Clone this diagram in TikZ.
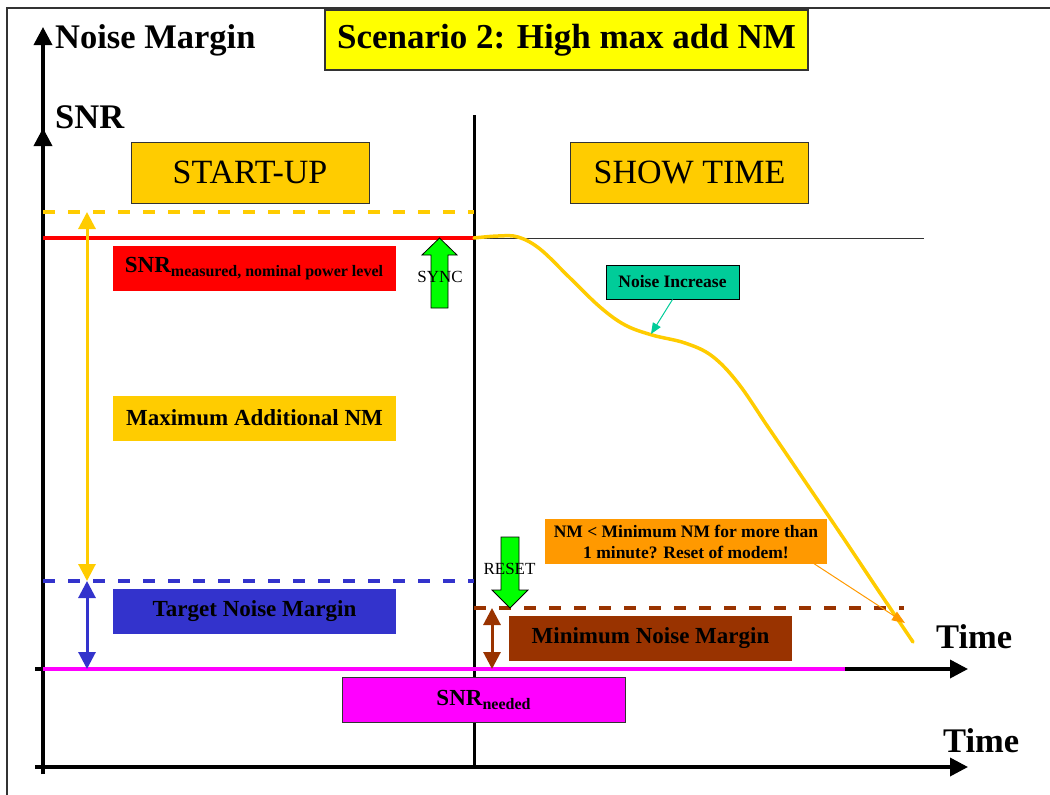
\documentclass[tikz,border=0pt]{standalone}
\usepackage{fontspec}
\setmainfont{Liberation Serif}
\usetikzlibrary{arrows.meta}
\definecolor{gold}{HTML}{FFCC00}
\definecolor{yel}{HTML}{FFFF00}
\definecolor{grn}{HTML}{00FF00}
\definecolor{teal2}{HTML}{00CC99}
\definecolor{blue2}{HTML}{3333CC}
\definecolor{brown2}{HTML}{993300}
\definecolor{mag}{HTML}{FF00FF}
\definecolor{orng}{HTML}{FF9900}
\definecolor{frame}{HTML}{333333}
\begin{document}
\begin{tikzpicture}[x=1pt,y=-1pt,
  axis/.style={line width=3.5pt,-{Triangle[length=18pt,width=18pt]}},
  dashline/.style={line width=4pt,dash pattern=on 12pt off 13pt},
  dbl/.style={line width=3pt,{Triangle[length=17pt,width=17pt]}-{Triangle[length=17pt,width=17pt]}},
  labelbox/.style={minimum width=283pt,minimum height=45pt,inner sep=0pt,font=\fontsize{23}{26}\selectfont\bfseries},
  phasebox/.style={draw=frame,line width=1pt,fill=gold,minimum width=238pt,minimum height=61pt,inner sep=0pt,font=\fontsize{34}{38}\selectfont},
  bigbold/.style={font=\fontsize{34.5}{40}\selectfont\bfseries,inner sep=0pt},
  callout/.style={font=\fontsize{17.5}{21}\selectfont\bfseries,inner sep=0pt,align=center},
  garrow/.style={draw=black,line width=0.8pt,fill=grn},
  smalltext/.style={font=\fontsize{17}{20}\selectfont,inner sep=0pt}
]
\useasboundingbox (0,0) rectangle (1050,795);
% frame
\draw[frame,line width=1.5pt] (7,795) -- (7,8) -- (1050,8);

% coordinates
\coordinate (ybot) at (43,774);
\coordinate (ytop) at (43,27);
\coordinate (ysnr) at (43,128);
\coordinate (xlo0) at (35,767);
\coordinate (xlo1) at (968,767);
\coordinate (xhi0) at (35,669);
\coordinate (xhi1) at (968,669);
\coordinate (magend) at (845,669);
\coordinate (div0) at (474,115);
\coordinate (div1) at (474,767);

% title
\node[draw=frame,line width=1.2pt,fill=yel,minimum width=483pt,minimum height=60pt,inner sep=0pt,font=\fontsize{35}{40}\selectfont\bfseries] (title) at (566.5,40) {Scenario 2: High max add NM};

% axes
\draw[axis] (ybot) -- (ytop);
\draw[axis] (ybot) -- (ysnr);
\draw[axis] (xlo0) -- (xlo1);
\draw[axis] (xhi0) -- (xhi1);
\draw[line width=3pt] (div0) -- (div1);

\node[bigbold,anchor=base west] (nm) at (55,48) {Noise Margin};
\node[bigbold,anchor=base west] (snr) at (55,128) {SNR};
\node[bigbold,anchor=base west] (time1) at (936,648) {Time};
\node[bigbold,anchor=base west] (time2) at (943,752) {Time};

% phase boxes
\node[phasebox] (startup) at (250,172.5) {START-UP};
\node[phasebox] (showtime) at (689.5,172.5) {SHOW TIME};

% levels
\coordinate (ydash0) at (43,212);
\coordinate (ydash1) at (474,212);
\coordinate (red0) at (43,238);
\coordinate (red1) at (474,238);
\coordinate (gray1) at (924,238);
\coordinate (bdash0) at (43,581);
\coordinate (bdash1) at (474,581);
\coordinate (brdash0) at (474,608);
\coordinate (brdash1) at (904,608);

\draw[gold,dashline] (ydash0) -- (ydash1);
\draw[blue2,dashline] (bdash0) -- (bdash1);
\draw[brown2,dashline] (brdash0) -- (brdash1);
\draw[black!80,line width=0.8pt] (red1) -- (gray1);
\draw[red,line width=3.5pt] (red0) -- (red1);
\draw[mag,line width=4pt] (43,669) -- (magend);

% double arrows
\coordinate (ya) at (87,212);
\coordinate (yb) at (87,581);
\coordinate (ba) at (87,581);
\coordinate (bb) at (87,669);
\coordinate (ra) at (492,608);
\coordinate (rb) at (492,669);
\draw[gold,dbl] (ya) -- (yb);
\draw[blue2,dbl] (ba) -- (bb);
\draw[brown2,dbl] (ra) -- (rb);

% label boxes
\node[labelbox,fill=red] (snrmeas) at (254,268.5) {SNR\raisebox{-0.35ex}{\fontsize{16}{18}\selectfont measured, nominal power level}};
\node[labelbox,fill=gold] (maxadd) at (254.5,418) {Maximum Additional NM};
\node[labelbox,fill=blue2] (target) at (254.5,611.5) {Target Noise Margin};
\node[labelbox,fill=brown2] (minnm) at (650.5,638.5) {Minimum Noise Margin};
\node[labelbox,fill=mag,draw=frame,line width=1pt] (snrneed) at (483.5,700) {SNR\raisebox{-0.35ex}{\fontsize{16}{18}\selectfont needed}};

% SNR curve
\draw[gold,line width=3.5pt,line cap=round] plot[smooth,tension=0.6] coordinates {(474,238) (498,236) (518,237) (540,249) (570,278) (600,307) (625,325) (652,335) (685,343) (712,356) (738,383) (768,427) (800,474) (840,533) (878,590) (913,642)};

% SYNC arrow
\draw[garrow] (431,308) -- (431,255) -- (422,255) -- (439.5,238) -- (457,255) -- (448,255) -- (448,308) -- cycle;
\node[smalltext] (sync) at (440,277) {SYNC};

% RESET arrow
\draw[garrow] (501,537) -- (501,590) -- (492,590) -- (510,608) -- (528,590) -- (519,590) -- (519,537) -- cycle;
\node[smalltext] (reset) at (509.5,569) {RESET};

% callouts
\node[callout,fill=teal2,draw=black,line width=1pt,minimum width=133pt,minimum height=34pt] (noiseinc) at (672.5,282) {Noise Increase};
\coordinate (nitip) at (651,334);
\draw[teal2,line width=1pt,-{Triangle[length=11pt,width=9pt]}] (noiseinc.south) -- (nitip);

\node[callout,fill=orng,minimum width=282pt,minimum height=45pt] (reset2) at (686,541.5) {NM < Minimum NM for more than\\1 minute? Reset of modem!};
\coordinate (rtip) at (905,623);
\draw[orng,line width=1pt,-{Triangle[length=13pt,width=10pt]}] (813,563) -- (rtip);
\end{tikzpicture}
\end{document}
